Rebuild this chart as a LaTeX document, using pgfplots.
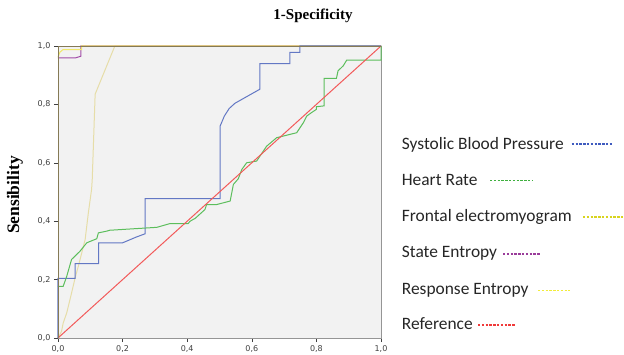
\documentclass[border=0pt]{standalone}
\usepackage{pgfplots}
\pgfplotsset{compat=1.18}
\usepackage{fontspec}
\setmainfont{Liberation Serif}
\newfontfamily\calib{Carlito}
\newfontfamily\dejavu{DejaVu Sans}
\definecolor{bgc}{HTML}{F2F2F2}
\definecolor{frameol}{HTML}{857A55}
\definecolor{framegr}{HTML}{959595}
\definecolor{cblue}{HTML}{6378C4}
\definecolor{cgreen}{HTML}{5CBE5C}
\definecolor{cred}{HTML}{F25A5A}
\definecolor{cpurple}{HTML}{A24DA8}
\definecolor{cyellow}{HTML}{F0E86A}
\definecolor{cbeige}{HTML}{E6DDA8}
\definecolor{lblue}{HTML}{3F5BBF}
\definecolor{lgreen}{HTML}{3FB03F}
\definecolor{lyel}{HTML}{D8D41E}
\definecolor{lpurple}{HTML}{9A3C9A}
\definecolor{lyel2}{HTML}{F2EC3A}
\definecolor{lred}{HTML}{F03A3A}
\begin{document}
\begin{tikzpicture}
\begin{axis}[
  name=ax,
  scale only axis,
  width=323pt, height=292pt,
  xmin=0, xmax=1, ymin=0, ymax=1,
  axis background/.style={fill=bgc},
  axis line style={framegr, line width=0.9pt},
  xtick={0,0.2,0.4,0.6,0.8,1.0},
  ytick={0,0.2,0.4,0.6,0.8,1.0},
  xtick pos=bottom, ytick pos=left,
  tick align=outside,
  major tick length=4pt,
  tick style={color=black!75, line width=0.6pt},
  /pgf/number format/.cd, use comma, fixed, fixed zerofill, precision=1, assume math mode=true,
  /pgfplots/.cd,
  ticklabel style={font=\dejavu\fontsize{8}{9}\selectfont, text=black!75},
  clip=false,
  every axis plot/.append style={line width=1pt},
]
\addplot[cbeige] coordinates {(0,0)(0.011,0.023)(0.016,0.051)(0.027,0.086)(0.042,0.154)(0.053,0.206)(0.063,0.246)(0.084,0.337)(0.094,0.429)(0.104,0.509)(0.106,0.543)(0.115,0.835)(0.176,1)(1,1)};
\addplot[cpurple] coordinates {(0,0.959)(0.053,0.959)(0.071,0.965)(0.071,1)(1,1)};
\addplot[cyellow] coordinates {(0,0.962)(0.006,0.979)(0.016,0.988)(0.073,0.988)(0.073,1)(1,1)};
\addplot[cblue] coordinates {(0,0)(0,0.204)(0.053,0.204)(0.053,0.255)(0.126,0.255)(0.126,0.326)(0.2,0.326)(0.243,0.346)(0.27,0.357)(0.27,0.477)(0.502,0.477)(0.502,0.726)(0.515,0.76)(0.53,0.786)(0.548,0.804)(0.625,0.852)(0.625,0.94)(0.718,0.94)(0.718,0.978)(0.749,0.978)(0.749,1)(1,1)};
\addplot[cgreen] coordinates {(0,0.177)(0.016,0.177)(0.027,0.211)(0.042,0.269)(0.068,0.297)(0.089,0.326)(0.12,0.34)(0.125,0.36)(0.151,0.366)(0.16,0.369)(0.306,0.379)(0.347,0.392)(0.403,0.392)(0.409,0.4)(0.425,0.41)(0.44,0.425)(0.455,0.44)(0.46,0.457)(0.491,0.457)(0.533,0.469)(0.543,0.526)(0.558,0.545)(0.569,0.577)(0.584,0.6)(0.615,0.606)(0.646,0.657)(0.677,0.686)(0.739,0.703)(0.76,0.738)(0.77,0.76)(0.785,0.772)(0.8,0.783)(0.8,0.792)(0.824,0.795)(0.824,0.889)(0.862,0.889)(0.867,0.915)(0.883,0.932)(0.894,0.952)(1,0.952)(1,1)};
\addplot[cred] coordinates {(0,0)(1,1)};
\draw[frameol, line width=0.9pt] (rel axis cs:0,0) -- (rel axis cs:0,1) -- (rel axis cs:1,1);
\end{axis}
% titles
\node[font=\bfseries\fontsize{15}{16}\selectfont] at (255pt,322pt) {1-Specificity};
\node[font=\bfseries\fontsize{17.5}{19}\selectfont, rotate=90] at (-43pt,143pt) {Sensibility};
% legend
\begin{scope}[every node/.style={anchor=base west, inner sep=0pt, font=\calib\fontsize{17.4}{19}\selectfont, text=black!85}]
\node at (343.7pt,188.7pt) {Systolic Blood Pressure};
\node at (343.7pt,153pt) {Heart Rate};
\node at (343.7pt,116.3pt) {Frontal electromyogram};
\node at (343.7pt,80.3pt) {State Entropy};
\node at (343.7pt,44pt) {Response Entropy};
\node at (343.7pt,8.7pt) {Reference};
\end{scope}
\begin{scope}[line width=1.4pt, dash pattern=on 2.4pt off 1.4pt]
\draw[lblue] (513.7pt,194pt) -- (554.7pt,194pt);
\draw[lgreen] (432pt,157.3pt) -- (474.7pt,157.3pt);
\draw[lyel] (525pt,121pt) -- (566pt,121pt);
\draw[lpurple] (445pt,84pt) -- (482pt,84pt);
\draw[lyel2] (480pt,47.3pt) -- (512pt,47.3pt);
\draw[lred] (420pt,13pt) -- (457pt,13pt);
\end{scope}
\pgfresetboundingbox
\useasboundingbox (-58pt,-16pt) rectangle (566pt,338pt);
\end{tikzpicture}
\end{document}
